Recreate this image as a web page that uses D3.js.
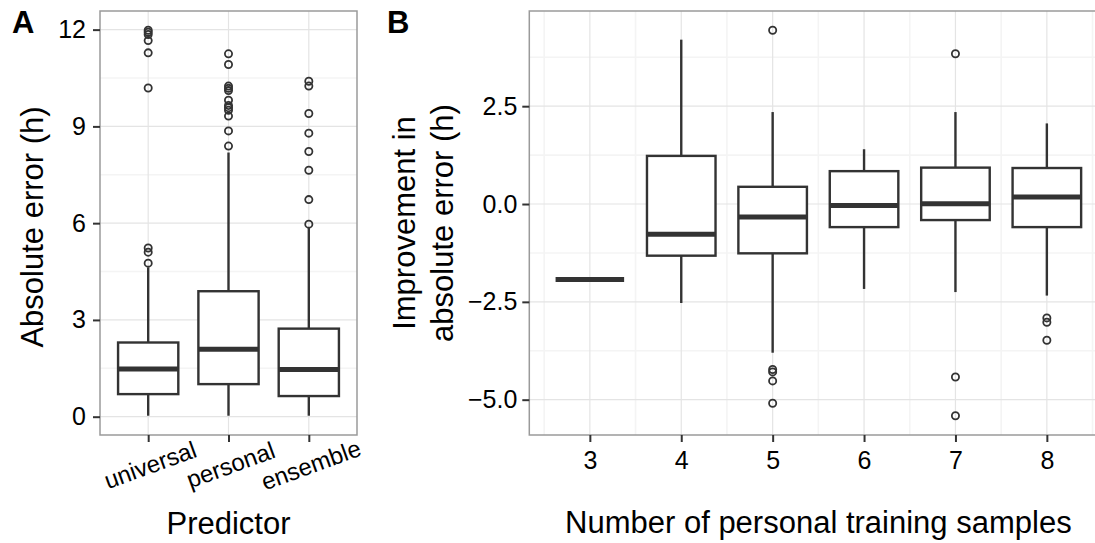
<!DOCTYPE html>
<html>
<head>
<meta charset="utf-8">
<script src="https://cdn.jsdelivr.net/npm/d3@7"></script>
<style>
  html, body { margin: 0; padding: 0; background: #fff; }
  svg { display: block; font-family: "Liberation Sans", Arial, Helvetica, sans-serif; }
</style>
</head>
<body>
<svg id="fig" width="1095" height="543"></svg>
<script>
// ---- Panel A: absolute error per predictor ----
const predictors = ["universal", "personal", "ensemble"];
const aLower   = [0.03, 0.03, 0.03];
const aQ1      = [0.70, 1.01, 0.64];
const aMedian  = [1.48, 2.09, 1.46];
const aQ3      = [2.30, 3.89, 2.73];
const aUpper   = [4.63, 8.19, 5.88];
const aOutliers = [
  [11.98, 11.92, 11.85, 11.66, 11.28, 10.19, 5.23, 5.10, 4.76],
  [11.25, 10.92, 10.25, 10.18, 10.11, 9.81, 9.65, 9.58, 9.50, 9.32, 8.86, 8.39],
  [10.40, 10.25, 9.40, 8.79, 8.22, 7.64, 6.73, 5.97]
];
const aTicks = [0, 3, 6, 9, 12];
const aMinor = [1.5, 4.5, 7.5, 10.5];

// ---- Panel B: improvement vs number of personal training samples ----
const samples  = [3, 4, 5, 6, 7, 8];
const bLower   = [-1.93, -2.53, -3.80, -2.17, -2.25, -2.34];
const bQ1      = [-1.93, -1.32, -1.26, -0.59, -0.41, -0.59];
const bMedian  = [-1.93, -0.77, -0.33, -0.04, 0.01, 0.18];
const bQ3      = [-1.93, 1.23, 0.44, 0.84, 0.93, 0.92];
const bUpper   = [-1.93, 4.20, 2.35, 1.40, 2.35, 2.06];
const bOutliers = [
  [],
  [],
  [4.44, -4.23, -4.29, -4.52, -5.09],
  [],
  [3.84, -4.42, -5.41],
  [-2.91, -3.02, -3.48]
];
const bTicks = [-5, -2.5, 0, 2.5];
const bMinorY = [-3.75, -1.25, 1.25, 3.75];
const bMinorX = [2.5, 3.5, 4.5, 5.5, 6.5, 7.5, 8.5];

const INK = "#333333";
const GRID_MAJOR = "#e4e4e4";
const GRID_MINOR = "#f4f4f4";
const BORDER = "#9a9a9a";
const TICK_FONT = 25;
const TITLE_FONT = 31;
const BOX_WIDTH = 0.75;

const svg = d3.select("#fig");
svg.append("rect").attr("width", 1095).attr("height", 543).attr("fill", "#fff");

function expand(lo, hi) {
  const pad = (hi - lo) * 0.05;
  return [lo - pad, hi + pad];
}

function stats(lower, q1, med, q3, upper, outliers, keys) {
  return keys.map((k, i) => ({
    key: k, lower: lower[i], q1: q1[i], med: med[i], q3: q3[i], upper: upper[i], out: outliers[i]
  }));
}

function drawBoxes(g, data, xPos, halfW, y) {
  const b = g.selectAll("g.box").data(data).join("g").attr("class", "box");
  // whiskers
  b.append("line")
    .attr("x1", d => xPos(d.key)).attr("x2", d => xPos(d.key))
    .attr("y1", d => y(d.q3)).attr("y2", d => y(d.upper))
    .attr("stroke", INK).attr("stroke-width", 2.4);
  b.append("line")
    .attr("x1", d => xPos(d.key)).attr("x2", d => xPos(d.key))
    .attr("y1", d => y(d.q1)).attr("y2", d => y(d.lower))
    .attr("stroke", INK).attr("stroke-width", 2.4);
  // box
  b.append("rect")
    .attr("x", d => xPos(d.key) - halfW)
    .attr("width", halfW * 2)
    .attr("y", d => y(d.q3))
    .attr("height", d => y(d.q1) - y(d.q3))
    .attr("fill", "#fff").attr("stroke", INK).attr("stroke-width", 2.4);
  // median
  b.append("line")
    .attr("x1", d => xPos(d.key) - halfW).attr("x2", d => xPos(d.key) + halfW)
    .attr("y1", d => y(d.med)).attr("y2", d => y(d.med))
    .attr("stroke", INK).attr("stroke-width", 5);
  // outliers
  b.selectAll("circle").data(d => d.out.map(v => ({ key: d.key, v })))
    .join("circle")
    .attr("cx", d => xPos(d.key)).attr("cy", d => y(d.v))
    .attr("r", 3.6).attr("fill", "none").attr("stroke", INK).attr("stroke-width", 1.8);
}

function gridLines(g, ys, xs, x0, x1, y0, y1, color, width) {
  g.selectAll(null).data(ys).join("line")
    .attr("x1", x0).attr("x2", x1).attr("y1", d => d).attr("y2", d => d)
    .attr("stroke", color).attr("stroke-width", width);
  g.selectAll(null).data(xs).join("line")
    .attr("y1", y0).attr("y2", y1).attr("x1", d => d).attr("x2", d => d)
    .attr("stroke", color).attr("stroke-width", width);
}

function styleAxis(ax) {
  ax.select(".domain").remove();
  ax.selectAll(".tick line").attr("stroke", INK).attr("stroke-width", 2);
  ax.selectAll(".tick text").attr("fill", "#000").attr("font-size", TICK_FONT)
    .attr("font-family", "Liberation Sans, Arial, sans-serif");
}

// ================= Panel A =================
const A = { left: 100, right: 357, top: 11, bottom: 435 };
const allA = aLower.concat(aUpper, aOutliers.flat());
const yA = d3.scaleLinear().domain(expand(d3.min(allA), d3.max(allA))).range([A.bottom, A.top]);
const xA = d3.scalePoint().domain(predictors).range([A.left, A.right]).padding(0.6);

const gA = svg.append("g");
const gridA = gA.append("g");
gridLines(gridA, aMinor.map(yA), [], A.left, A.right, A.top, A.bottom, GRID_MINOR, 1.6);
gridLines(gridA, aTicks.map(yA), predictors.map(xA), A.left, A.right, A.top, A.bottom, GRID_MAJOR, 1.2);

drawBoxes(gA.append("g"), stats(aLower, aQ1, aMedian, aQ3, aUpper, aOutliers, predictors),
  xA, xA.step() * BOX_WIDTH / 2, yA);

gA.append("rect").attr("x", A.left).attr("y", A.top)
  .attr("width", A.right - A.left).attr("height", A.bottom - A.top)
  .attr("fill", "none").attr("stroke", BORDER).attr("stroke-width", 1.5);

const axYA = gA.append("g").attr("transform", `translate(${A.left},0)`)
  .call(d3.axisLeft(yA).tickValues(aTicks).tickFormat(d3.format("d")).tickSize(7).tickPadding(7));
styleAxis(axYA);

const axXA = gA.append("g").attr("transform", `translate(0,${A.bottom})`)
  .call(d3.axisBottom(xA).tickSize(7).tickPadding(0));
styleAxis(axXA);
axXA.selectAll(".tick text")
  .attr("font-size", 24)
  .attr("text-anchor", "middle")
  .attr("y", 0).attr("dy", "0.3em")
  .attr("transform", "translate(2,31) rotate(-20)");

gA.append("text")
  .attr("x", (A.left + A.right) / 2).attr("y", 534)
  .attr("text-anchor", "middle").attr("font-size", TITLE_FONT)
  .text("Predictor");

gA.append("text")
  .attr("transform", `translate(43,${(A.top + A.bottom) / 2 + 4}) rotate(-90)`)
  .attr("text-anchor", "middle").attr("font-size", TITLE_FONT)
  .text("Absolute error (h)");

gA.append("text").attr("x", 12).attr("y", 33)
  .attr("font-size", 31).attr("font-weight", "bold").text("A");

// ================= Panel B =================
const B = { left: 529.3, top: 11, bottom: 435 };
const bStep = 91.4;
const xDomB = expand(d3.min(samples) - BOX_WIDTH / 2, d3.max(samples) + BOX_WIDTH / 2);
B.right = B.left + (xDomB[1] - xDomB[0]) * bStep;
const xB = d3.scaleLinear().domain(xDomB).range([B.left, B.right]);
const allB = bLower.concat(bUpper, bOutliers.flat());
const yB = d3.scaleLinear().domain(expand(d3.min(allB), d3.max(allB))).range([B.bottom, B.top]);

const gB = svg.append("g");
const gridB = gB.append("g");
gridLines(gridB, bMinorY.map(yB), bMinorX.map(xB), B.left, B.right, B.top, B.bottom, GRID_MINOR, 1.6);
gridLines(gridB, bTicks.map(yB), samples.map(xB), B.left, B.right, B.top, B.bottom, GRID_MAJOR, 1.2);

const halfB = (xB(1) - xB(0)) * BOX_WIDTH / 2;
drawBoxes(gB.append("g"), stats(bLower, bQ1, bMedian, bQ3, bUpper, bOutliers, samples), xB, halfB, yB);

gB.append("rect").attr("x", B.left).attr("y", B.top)
  .attr("width", B.right - B.left).attr("height", B.bottom - B.top)
  .attr("fill", "none").attr("stroke", BORDER).attr("stroke-width", 1.5);

const fmtB = v => d3.format(".1f")(v).replace("-", "\u2212");
const axYB = gB.append("g").attr("transform", `translate(${B.left},0)`)
  .call(d3.axisLeft(yB).tickValues(bTicks).tickFormat(fmtB).tickSize(7).tickPadding(5));
styleAxis(axYB);

const axXB = gB.append("g").attr("transform", `translate(0,${B.bottom})`)
  .call(d3.axisBottom(xB).tickValues(samples).tickFormat(d3.format("d")).tickSize(7).tickPadding(9));
styleAxis(axXB);

gB.append("text")
  .attr("x", (B.left + B.right) / 2).attr("y", 533)
  .attr("text-anchor", "middle").attr("font-size", TITLE_FONT)
  .text("Number of personal training samples");

const yTitleB = gB.append("text")
  .attr("transform", `translate(415,${(B.top + B.bottom) / 2}) rotate(-90)`)
  .attr("text-anchor", "middle").attr("font-size", TITLE_FONT);
yTitleB.append("tspan").attr("x", 0).attr("y", 0).text("Improvement in");
yTitleB.append("tspan").attr("x", 0).attr("y", 38).text("absolute error (h)");

gB.append("text").attr("x", 387).attr("y", 33)
  .attr("font-size", 31).attr("font-weight", "bold").text("B");
</script>
</body>
</html>
